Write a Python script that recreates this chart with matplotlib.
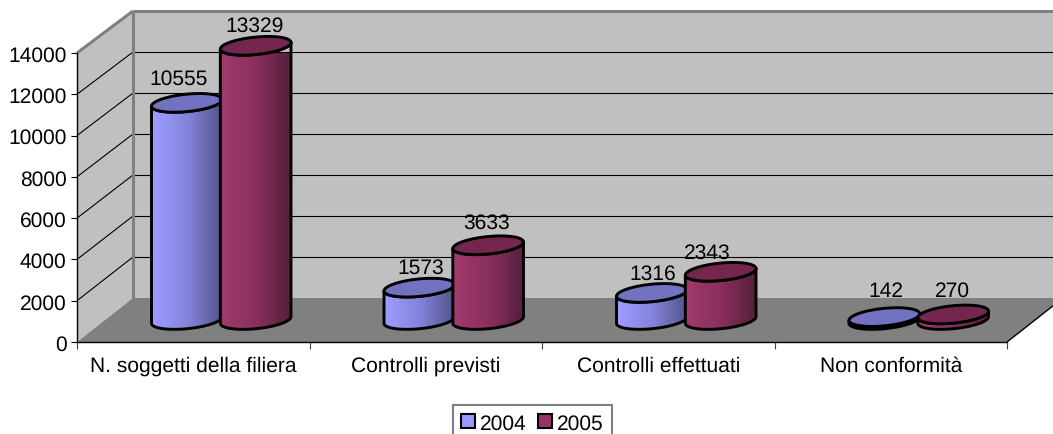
import matplotlib
matplotlib.use("Agg")
import matplotlib.pyplot as plt
import numpy as np
from matplotlib.path import Path
from matplotlib.patches import PathPatch, Patch, Polygon
from matplotlib.transforms import IdentityTransform
from matplotlib.colors import LinearSegmentedColormap

categories = ["N. soggetti della filiera", "Controlli previsti", "Controlli effettuati", "Non conformità"]
years = ["2004", "2005"]
values_2004 = [10555, 1573, 1316, 142]
values_2005 = [13329, 3633, 2343, 270]
y_ticks = [0, 2000, 4000, 6000, 8000, 10000, 12000, 14000]

# Style / layout
W, H = 1053, 435
FONT = "Liberation Sans"
FS = 15.0
DEPTH_DX, DEPTH_DY = 56, 44      # pixels between front plane and back wall
BACK_SCALE = 287 / 289
BAR_HALF = 0.148                 # in category units
MAJOR, MINOR, TILT = 35.5, 8.7, np.deg2rad(5.7)
WALL, FLOOR, BORDER = "#c0c0c0", "#808080", "#808080"
series_style = [
    dict(values=values_2004, side=-1, light="#9c9cff", mid="#8484dc", dark="#54548c", top="#7272c0", swatch="#9999ff",
         nudge=[-8, 1, 1, 1.5], lift=[46, 42, 41, 48]),
    dict(values=values_2005, side=1, light="#a03a6c", mid="#8a2f5e", dark="#591f3d", top="#75264f", swatch="#993366",
         nudge=[-1, -2, -13, -1], lift=[41, 45, 41, 46]),
]

plt.rcParams["font.family"] = [FONT, "DejaVu Sans"]
plt.rcParams["text.hinting"] = "no_hinting"
plt.rcParams["text.hinting_factor"] = 1
fig = plt.figure(figsize=(W / 100, H / 100), dpi=100, facecolor="white")
ax = fig.add_axes([77 / W, (H - 343) / H, 930 / W, 289 / H])
ax.set_xlim(0, len(categories))
ax.set_ylim(0, y_ticks[-1])
ax.patch.set_visible(False)
for s in ("top", "right"):
    ax.spines[s].set_visible(False)
for s in ("left", "bottom"):
    ax.spines[s].set_linewidth(1.0)
    ax.spines[s].set_zorder(4)

ident = IdentityTransform()


def px(x, y, depth=0.0):
    """Display position of a data point at a depth between the front plane (0) and back wall (1)."""
    y0 = ax.transData.transform((x, 0))[1]
    p = ax.transData.transform((x, y))
    scale = 1 - (1 - BACK_SCALE) * depth
    return np.array([p[0] + DEPTH_DX * depth, y0 + (p[1] - y0) * scale + DEPTH_DY * depth])


n = len(categories)
ymax = y_ticks[-1]
# walls and floor
ax.add_patch(Polygon([px(0, 0), px(0, ymax), px(0, ymax, 1), px(0, 0, 1)], closed=True, fc=WALL, ec="none",
                     transform=ident, clip_on=False, zorder=0))
ax.add_patch(Polygon([px(0, 0, 1), px(0, ymax, 1), px(n, ymax, 1), px(n, 0, 1)], closed=True, fc=WALL, ec="none",
                     transform=ident, clip_on=False, zorder=0))
ax.add_patch(Polygon([px(0, 0), px(0, 0, 1), px(n, 0, 1), px(n, 0)], closed=True, fc=FLOOR, ec="none",
                     transform=ident, clip_on=False, zorder=0.5))


def seg(a, b, **kw):
    ax.plot([a[0], b[0]], [a[1], b[1]], transform=ident, clip_on=False, solid_capstyle="butt", **kw)


for t in y_ticks[1:-1]:
    seg(px(0, t), px(0, t, 1), color="black", lw=0.8, zorder=1)
    seg(px(0, t, 1), px(n, t, 1), color="black", lw=0.8, zorder=1)
seg(px(0, ymax), px(0, ymax, 1), color=BORDER, lw=2.2, zorder=1.5)
seg(px(0, ymax, 1), px(n, ymax, 1), color=BORDER, lw=2.2, zorder=1.5)
seg(px(0, 0, 1), px(0, ymax, 1), color=BORDER, lw=2.2, zorder=1.5)
seg(px(n, 0), px(n, 0, 1), color="black", lw=1.0, zorder=1.5)

ax.set_xlim(0, n)
ax.set_ylim(0, ymax)


def ellipse_pts(c, t):
    u = np.array([np.cos(TILT), np.sin(TILT)])
    v = np.array([-np.sin(TILT), np.cos(TILT)])
    return c + np.outer(MAJOR * np.cos(t), u) + np.outer(MINOR * np.sin(t), v)


def cylinder(xc, val, st, z):
    base = px(xc, 0, 0.5)
    top = px(xc, val, 0.5)
    low = ellipse_pts(base, np.linspace(np.pi, 2 * np.pi, 60))
    up = ellipse_pts(top, np.linspace(2 * np.pi, np.pi, 60))
    body = np.vstack([low, up, low[:1]])
    outline = PathPatch(Path(body, closed=True), fc="none", ec="black", lw=2.1, transform=ident,
                        clip_on=False, zorder=z + 0.2, joinstyle="round")
    cmap = LinearSegmentedColormap.from_list("c", [st["light"], st["mid"], st["dark"]])
    shade = np.linspace(0, 1, 28)[None, :]
    x0, x1 = body[:, 0].min(), body[:, 0].max()
    y0, y1 = body[:, 1].min(), body[:, 1].max()
    im = ax.imshow(shade, cmap=cmap, extent=(x0, x1, y0, y1), transform=ident, aspect="auto",
                   interpolation="nearest", zorder=z, clip_on=True)
    clip = PathPatch(Path(body, closed=True), transform=ident, fc="none", ec="none")
    ax.add_patch(clip)
    clip.set_clip_on(False)
    im.set_clip_path(clip)
    ax.add_patch(outline)
    cap = ellipse_pts(top, np.linspace(0, 2 * np.pi, 120))
    ax.add_patch(Polygon(cap, closed=True, fc=st["top"], ec="black", lw=2.1, transform=ident,
                         clip_on=False, zorder=z + 0.3))


for j, st in enumerate(series_style):
    for i, val in enumerate(st["values"]):
        xc = i + 0.5 + st["side"] * BAR_HALF
        cylinder(xc, val, st, 3 + j + i * 0.01)
        ax.annotate(str(val), xy=(xc, val), xycoords="data", xytext=(DEPTH_DX / 2 + st["nudge"][i], st["lift"][i]),
                    textcoords="offset pixels", ha="center", va="center", fontsize=FS, zorder=8,
                    annotation_clip=False, color="black")

ax.set_xlim(0, n)
ax.set_ylim(0, ymax)
ax.set_aspect("auto")

# ticks
ax.set_yticks(y_ticks)
ax.set_yticklabels([str(t) for t in y_ticks], fontsize=FS)
ax.tick_params(axis="y", length=4.5, width=0.8, pad=3)
ax.set_xticks(range(n + 1))
ax.set_xticklabels([])
ax.tick_params(axis="x", which="major", length=5, width=0.8, color="#404040")
ax.set_xticks(np.arange(n) + 0.5, minor=True)
ax.set_xticklabels(categories, minor=True, fontsize=FS)
ax.tick_params(axis="x", which="minor", length=0, pad=10)

# legend
handles = [Patch(fc=st["swatch"], ec="black", lw=1.5, label=y) for st, y in zip(series_style, years)]
leg = fig.legend(handles=handles, ncol=2, loc="upper left", bbox_to_anchor=(453 / W, 1 - 406 / H),
                 borderaxespad=0, fontsize=FS, frameon=True, fancybox=False, edgecolor="#808080",
                 facecolor="white", framealpha=1, handlelength=0.65, handleheight=0.65,
                 handletextpad=0.25, columnspacing=0.55, borderpad=0.4)
leg.get_frame().set_linewidth(1.5)

fig.savefig("out.png", dpi=100, facecolor="white")
